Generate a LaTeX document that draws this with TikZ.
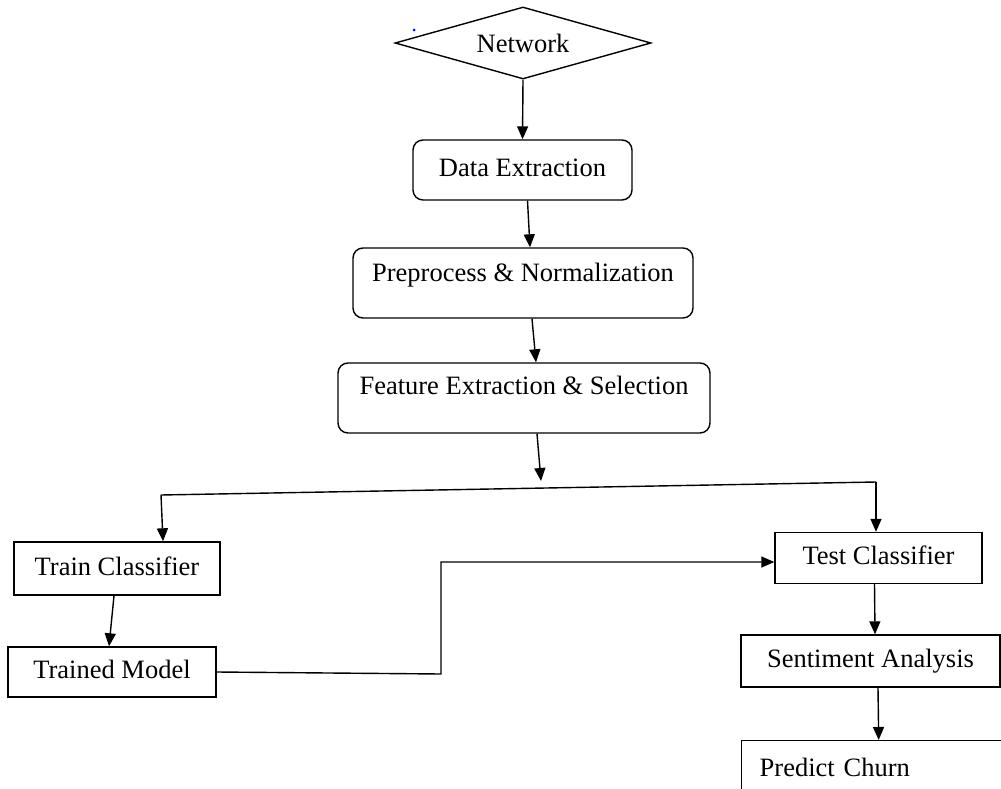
\documentclass[tikz,border=0pt]{standalone}
\usepackage{fontspec}
\setmainfont{Liberation Serif}
\usetikzlibrary{shapes.geometric,arrows.meta}
\begin{document}
\begin{tikzpicture}[x=1pt,y=-1pt,
  every node/.style={font=\fontsize{26.5}{31}\selectfont},
  rbox/.style={draw, line width=1.4pt, rounded corners=10pt, text height=18pt, text depth=5pt, inner sep=0pt},
  sbox/.style={draw, line width=1.4pt, text height=18pt, text depth=5pt, inner sep=0pt},
  conn/.style={line width=1.4pt},
  arr/.style={conn, -{Triangle[length=13pt,width=11pt]}}]
\useasboundingbox (0,0) rectangle (1001,789);
\fill[white] (0,0) rectangle (1001,789);
\node[diamond, aspect=3.5, draw, line width=1.4pt, minimum width=256pt, minimum height=72pt, inner sep=0pt] (net) at (523,43) {Network};
\fill[blue] (414,30) circle (1.5pt);
\node[rbox, minimum width=219pt, minimum height=60pt] (dext) at (522.5,170) {Data Extraction};
\node[rbox, minimum width=340pt, minimum height=70pt, text depth=21pt] (prep) at (523,283) {Preprocess \& Normalization};
\node[rbox, minimum width=372pt, minimum height=70pt, text depth=25pt] (feat) at (524,398) {Feature Extraction \& Selection};
\node[sbox, minimum width=206pt, minimum height=53pt] (train) at (117,568.5) {Train Classifier};
\node[sbox, minimum width=208pt, minimum height=50pt] (model) at (112,672) {Trained Model};
\node[sbox, minimum width=207pt, minimum height=51pt] (test) at (878.5,558) {Test Classifier};
\node[sbox, minimum width=259pt, minimum height=52pt] (sent) at (870.5,661) {Sentiment Analysis};
\node[sbox, anchor=north west, minimum width=261pt, minimum height=58pt, text width=225pt, inner xsep=18pt, align=left] (pred) at (741,740) {Predict Churn};
\coordinate (fend) at (541,481);
\coordinate (bl) at (161,495);
\coordinate (br) at (876,482);
\draw[arr] (net.south) -- (dext.north);
\draw[arr] ([xshift=5pt]dext.south) -- ([xshift=7pt]prep.north);
\draw[arr] ([xshift=9pt]prep.south) -- ([xshift=12pt]feat.north);
\draw[arr] ([xshift=13pt]feat.south) -- (fend);
\draw[conn] (bl) -- (br);
\draw[arr] (bl) -- ([xshift=46pt]train.north);
\draw[arr] (br) -- ([xshift=-2.5pt]test.north);
\draw[arr] ([xshift=-3pt]train.south) -- ([xshift=-3pt]model.north);
\draw[arr] (model.east) -- (441,674) |- ([yshift=-4pt]test.west);
\draw[arr] ([xshift=-4pt]test.south) -- ([xshift=4.5pt]sent.north);
\draw[arr] ([xshift=7.5pt]sent.south) -- ([xshift=6.5pt]pred.north);
\end{tikzpicture}
\end{document}
